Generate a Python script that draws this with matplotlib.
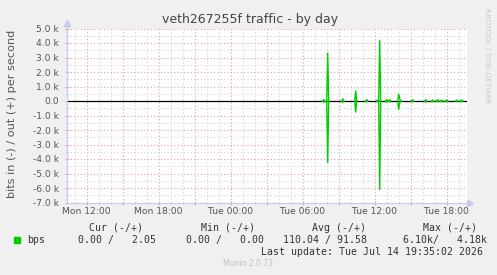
import numpy as np
import matplotlib
matplotlib.use("Agg")
import matplotlib.pyplot as plt
from matplotlib.ticker import MultipleLocator, FixedLocator

# time axis: hours since Mon 12:00, one sample every 5 minutes
t_start = -5.0 / 3
t_end = 31.67
step = 1.0 / 12

# traffic spikes (hours since Mon 12:00, out bps, in bps)
spike_times = [19.78, 20.05, 21.30, 22.38, 23.33, 24.28, 24.44, 25.03, 25.28,
               26.03, 26.12, 27.20, 28.28, 28.86, 29.28, 29.60, 30.00, 30.83, 31.28]
spike_out = [100, 3300, 150, 690, 100, 80, 4180, 100, 80,
             480, 150, 80, 80, 70, 90, 60, 80, 60, 70]
spike_in = [80, 4250, 100, 760, 50, 60, 6100, 80, 60,
            570, 150, 50, 80, 50, 60, 60, 60, 60, 50]

xtick_pos = [0, 3, 6, 9, 12, 15, 18, 21, 24, 27, 30]
xtick_labels = ["Mon 12:00", "", "Mon 18:00", "", "Tue 00:00", "", "Tue 06:00",
                "", "Tue 12:00", "", "Tue 18:00"]
ytick_pos = [5000, 4000, 3000, 2000, 1000, 0, -1000, -2000, -3000, -4000, -5000, -6000, -7000]
ytick_labels = ["5.0 k", "4.0 k", "3.0 k", "2.0 k", "1.0 k", "0.0", "-1.0 k", "-2.0 k",
                "-3.0 k", "-4.0 k", "-5.0 k", "-6.0 k", "-7.0 k"]

legend_head = ["Cur (-/+)", "Min (-/+)", "Avg (-/+)", "Max (-/+)"]
legend_vals = ["0.00 /   2.05", "0.00 /   0.00", "110.04 / 91.58", "6.10k/   4.18k"]

# build sampled series
t = np.arange(t_start, t_end, step)
out_v = np.zeros_like(t)
in_v = np.zeros_like(t)
for st, o, i in zip(spike_times, spike_out, spike_in):
    k = int(round((st - t_start) / step))
    out_v[k] = o
    in_v[k] = i


def hide_flat(v):
    # keep only the samples next to a spike, the rest sits under the zero rule
    v = v.astype(float).copy()
    nz = v != 0
    keep = nz | np.roll(nz, 1) | np.roll(nz, -1)
    v[~keep] = np.nan
    return v


W, H = 497, 275
fig = plt.figure(figsize=(W / 100, H / 100), dpi=100, facecolor="#f0f0f0")
ax = fig.add_axes([66.7 / W, 1 - 202.5 / H, 400 / W, 174 / H])
ax.set_facecolor("white")

grid_red = "#e8a0a0"
grid_grey = "#d4d4d4"
axis_col = "#c8c8f0"

# grid
for x in np.arange(-1, 32, 1):
    if x % 3 == 0:
        ax.axvline(x, color=grid_red, lw=0.8, ls=(0, (1, 2)), zorder=1)
    else:
        ax.axvline(x, color=grid_grey, lw=0.8, ls=(0, (1, 2)), zorder=0.5)
for y in np.arange(-7000, 5001, 500):
    if y % 1000 == 0:
        ax.axhline(y, color=grid_red, lw=0.8, ls=(0, (1, 2)), zorder=1)
    else:
        ax.axhline(y, color=grid_grey, lw=0.8, ls=(0, (1, 2)), zorder=0.5)

ax.axhline(0, color="black", lw=0.9, zorder=2)
ax.plot(t, hide_flat(out_v), color="#00cc00", lw=1.0, zorder=3)
ax.plot(t, -hide_flat(in_v), color="#00cc00", lw=1.0, zorder=3)

ax.set_xlim(t_start, t_start + 400 / 12)
ax.set_ylim(-7000, 5000)

ax.xaxis.set_major_locator(FixedLocator(xtick_pos))
ax.set_xticklabels(xtick_labels)
ax.xaxis.set_minor_locator(MultipleLocator(1))
ax.yaxis.set_major_locator(FixedLocator(ytick_pos))
ax.set_yticklabels(ytick_labels)
ax.yaxis.set_minor_locator(MultipleLocator(500))

ax.tick_params(which="major", colors=grid_red, length=3, width=0.8, direction="inout",
               labelcolor="#555555", labelsize=6.6, pad=2)
ax.tick_params(which="minor", colors="#bbbbbb", length=2, width=0.6, direction="inout")
ax.tick_params(axis="y", which="major", pad=4)

for s in ["top", "right"]:
    ax.spines[s].set_visible(False)
for s in ["left", "bottom"]:
    ax.spines[s].set_color(axis_col)
    ax.spines[s].set_linewidth(0.8)
    ax.spines[s].set_zorder(4)

# axis arrows
ax.plot([0], [1.03], marker="^", color=axis_col, ms=4, transform=ax.transAxes, clip_on=False)
ax.plot([0, 0], [1.0, 1.03], color=axis_col, lw=0.8, transform=ax.transAxes, clip_on=False)
ax.plot([1.008], [0], marker=">", color=axis_col, ms=4, transform=ax.transAxes, clip_on=False)

fig.text(250 / W, 1 - 19 / H, "veth267255f traffic - by day", ha="center", va="center",
         fontsize=9, color="#444444")
fig.text(12 / W, 1 - 114 / H, "bits in (-) / out (+) per second", rotation=90,
         ha="center", va="center", fontsize=8.1, color="#555555")
fig.text(487 / W, 1 - 56 / H, "RRDTOOL / TOBI OETIKER", rotation=270,
         ha="center", va="center", fontsize=5.4, color="#c8c8c8")

mono = dict(family="DejaVu Sans Mono", fontsize=7.1, color="#333333", va="center")
for x, s in zip([89, 201, 312, 423], legend_head):
    fig.text(x / W, 1 - 227.7 / H, s, ha="left", **mono)
fig.patches.append(plt.Rectangle((14 / W, 1 - 243 / H), 6 / W, 6 / H, color="#00cc00",
                                 transform=fig.transFigure, figure=fig))
fig.text(26.7 / W, 1 - 240 / H, "bps", ha="left", **mono)
for x, s in zip([78, 186, 283, 403], legend_vals):
    fig.text(x / W, 1 - 240 / H, s, ha="left", **mono)
fig.text(483 / W, 1 - 251.7 / H, "Last update: Tue Jul 14 19:35:02 2026", ha="right", **mono)
fig.text(248 / W, 1 - 264 / H, "Munin 2.0.73", ha="center", va="center", fontsize=5.5,
         color="#c0c0c0")

fig.savefig("out.png", dpi=100, facecolor=fig.get_facecolor())
